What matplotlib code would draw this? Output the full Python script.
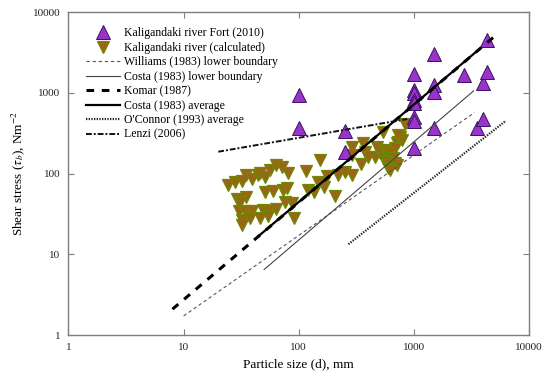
import matplotlib
matplotlib.use('Agg')
import matplotlib.pyplot as plt
import matplotlib.ticker as ticker

plt.rcParams['font.family'] = ['Liberation Serif', 'DejaVu Serif']
plt.rcParams['mathtext.fontset'] = 'stix'

# Kaligandaki river, Fort (2010) measurements
fort_d = [100, 100, 250, 250, 1000, 1000, 1000, 1000, 1000, 1000, 1000, 1000,
          1500, 1500, 1500, 1500, 2700, 3500, 4000, 4000, 4300, 4300]
fort_tau = [940, 370, 340, 185, 1700, 1090, 990, 820, 740, 505, 450, 205,
            3030, 1250, 1030, 370, 1670, 370, 1320, 475, 1800, 4530]

# Kaligandaki river, calculated
calc_d = [24.4, 28, 32, 35, 39, 44.6, 46, 51, 56, 64, 71, 81, 116,
          29, 35, 31, 51, 60, 73.5, 121, 76, 87, 79,
          30, 34, 39, 49, 56, 64, 32, 38, 46, 54, 90, 32,
          153, 177, 217, 253, 289, 148, 166, 136, 205,
          289, 364, 476, 540, 759, 839, 733, 785, 710, 377, 289, 345,
          402, 460, 508, 543, 562, 600, 621, 687, 664, 582, 600, 687,
          710, 600, 621, 733]
calc_tau = [72, 78, 81, 96, 87, 96, 101, 92, 111, 128, 122, 101, 108,
            49, 51, 45, 60, 61, 63, 63, 45, 43, 66,
            34, 34, 34, 35, 34, 37, 27, 28, 28, 30, 28, 23,
            147, 94, 96, 106, 96, 79, 68, 60, 53,
            215, 242, 215, 331, 287, 410, 248, 261, 237, 187, 170, 130,
            162, 162, 179, 155, 196, 179, 179, 206, 155, 140, 128, 134,
            128, 116, 111, 301]

# relations (start and end of each line)
williams_d, williams_tau = [10, 3350], [1.73, 570]
costa_low_d, costa_low_tau = [50, 3300], [6.5, 1060]
komar_d, komar_tau = [8, 5000], [2.1, 5000]
costa_avg_d, costa_avg_tau = [45, 3750], [17, 3550]
oconnor_d, oconnor_tau = [270, 6300], [13.4, 453]
lenzi_d, lenzi_tau = [20, 873], [187, 475]

fig = plt.figure(figsize=(5.5, 3.8), dpi=100)
ax = fig.add_axes([0.1245, 0.118, 0.8375, 0.85])

ax.plot(fort_d, fort_tau, linestyle='none', marker='^', markersize=9.5,
        markerfacecolor='#9933cc', markeredgecolor='#3a1060', markeredgewidth=0.7,
        label='Kaligandaki river Fort (2010)', zorder=3)
ax.plot(calc_d, calc_tau, linestyle='none', marker='v', markersize=8,
        markerfacecolor='#9c6416', markeredgecolor='#6a8a00', markeredgewidth=0.9,
        label='Kaligandaki river (calculated)', zorder=2)

ax.plot(williams_d, williams_tau, color='#555555', lw=0.8, dashes=(3, 2.5),
        label='Williams (1983) lower boundary', zorder=4)
ax.plot(costa_low_d, costa_low_tau, color='#444444', lw=0.8,
        label='Costa (1983) lower boundary', zorder=4)
ax.plot(komar_d, komar_tau, color='black', lw=2.2, dashes=(2.5, 2.5),
        label='Komar (1987)', zorder=4)
ax.plot(costa_avg_d, costa_avg_tau, color='black', lw=1.6,
        label='Costa (1983) average', zorder=4)
ax.plot(oconnor_d, oconnor_tau, color='#222222', lw=1.6, dashes=(0.6, 0.6),
        label="O'Connor (1993) average", zorder=4)
ax.plot(lenzi_d, lenzi_tau, color='#111111', lw=1.4, dashes=(3, 1, 1, 1),
        label='Lenzi (2006)', zorder=4)

ax.set_xscale('log')
ax.set_yscale('log')
ax.set_xlim(1, 10000)
ax.set_ylim(1, 10000)

decades = [1, 10, 100, 1000, 10000]
for axis in (ax.xaxis, ax.yaxis):
    axis.set_major_locator(ticker.FixedLocator(decades))
    axis.set_minor_locator(ticker.NullLocator())
    axis.set_major_formatter(ticker.FuncFormatter(lambda v, _: f'{v:g}'))

ax.tick_params(direction='in', length=4, width=0.8, color='#7f7f7f',
               top=True, right=True, labelsize=8, pad=6, labelcolor='#222222')
for sp in ax.spines.values():
    sp.set_color('#7f7f7f')
    sp.set_linewidth(1.0)

ax.set_xlabel('Particle size (d), mm', fontsize=9.5, labelpad=4)
ax.set_ylabel(r'Shear stress ($\tau_b$), Nm$^{-2}$', fontsize=9.5, labelpad=4)

ax.legend(loc='upper left', bbox_to_anchor=(0.038, 0.953), frameon=False,
          fontsize=8.5, numpoints=1, handlelength=2.9, handletextpad=0.3,
          labelspacing=0.21, borderpad=0, borderaxespad=0)

fig.savefig('out.png', dpi=100)
